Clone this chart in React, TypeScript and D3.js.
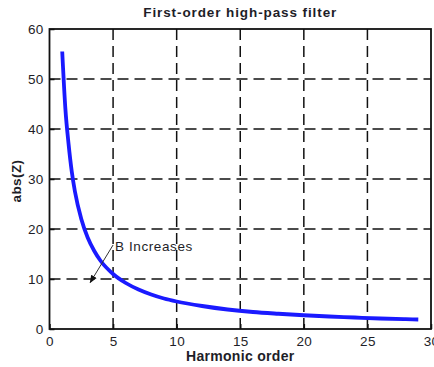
import React, { useEffect, useRef } from 'react';
import * as d3 from 'd3';

// data
const harmonicOrder = [1, 1.25, 1.5, 1.75, 2, 2.5, 3, 3.5, 4, 5, 6, 7, 8, 9, 10, 12, 14, 16, 18, 20, 22, 24, 26, 28, 29];
const absZ = [55.5, 44, 37, 31.5, 27.5, 22, 18.3, 15.7, 13.7, 11, 9.2, 7.9, 6.9, 6.1, 5.5, 4.6, 3.9, 3.4, 3.05, 2.75, 2.5, 2.3, 2.1, 1.96, 1.9];
const xTicks = [0, 5, 10, 15, 20, 25, 30];
const yTicks = [0, 10, 20, 30, 40, 50, 60];

export default function App() {
  const ref = useRef<SVGSVGElement | null>(null);

  useEffect(() => {
    draw();
    // eslint-disable-next-line react-hooks/exhaustive-deps
  }, []);

  function draw() {
    const svg = d3.select(ref.current);
    svg.selectAll('*').remove();
    const width = 434;
    const height = 367;
    const margin = { top: 29, right: 3, bottom: 38, left: 49.5 };
    const innerWidth = width - margin.left - margin.right;
    const innerHeight = height - margin.top - margin.bottom;
    const font = 'Liberation Sans, Arial, sans-serif';
    const ink = '#1e1e28';

    const xScale = d3.scaleLinear().domain([0, 30]).range([0, innerWidth]);
    const yScale = d3.scaleLinear().domain([0, 60]).range([innerHeight, 0]);

    svg.append('rect').attr('width', width).attr('height', height).attr('fill', '#fff');
    const g = svg.append('g').attr('transform', `translate(${margin.left},${margin.top})`);

    // dashed grid
    g.selectAll('.vgrid')
      .data(xTicks.slice(1, -1))
      .enter()
      .append('line')
      .attr('x1', (d) => xScale(d))
      .attr('x2', (d) => xScale(d))
      .attr('y1', 0)
      .attr('y2', innerHeight)
      .attr('stroke', '#111')
      .attr('stroke-width', 1.5)
      .attr('stroke-dasharray', '11,6');
    g.selectAll('.hgrid')
      .data(yTicks.slice(1, -1))
      .enter()
      .append('line')
      .attr('x1', 0)
      .attr('x2', innerWidth)
      .attr('y1', (d) => yScale(d))
      .attr('y2', (d) => yScale(d))
      .attr('stroke', '#111')
      .attr('stroke-width', 1.5)
      .attr('stroke-dasharray', '11,6');

    // axes
    const xAxis = d3.axisBottom(xScale).tickValues(xTicks).tickSize(-5).tickPadding(7);
    const yAxis = d3.axisLeft(yScale).tickValues(yTicks).tickSize(-5).tickPadding(6);
    const xg = g.append('g').attr('transform', `translate(0,${innerHeight})`).call(xAxis);
    const yg = g.append('g').call(yAxis);
    [xg, yg].forEach((a) => {
      a.select('.domain').remove();
      a.selectAll('line').attr('stroke', '#111').attr('stroke-width', 1.5);
      a.selectAll('text')
        .attr('font-family', font)
        .attr('font-size', 13.5)
        .attr('letter-spacing', 0.3)
        .attr('fill', ink);
    });
    yg.selectAll('text').attr('dy', '0.35em');

    // box
    g.append('rect')
      .attr('width', innerWidth)
      .attr('height', innerHeight)
      .attr('fill', 'none')
      .attr('stroke', '#111')
      .attr('stroke-width', 1.8);

    // curve
    const line = d3
      .line<number>()
      .x((d, i) => xScale(harmonicOrder[i]))
      .y((d) => yScale(d))
      .curve(d3.curveMonotoneX);
    g.append('path')
      .datum(absZ)
      .attr('d', line)
      .attr('fill', 'none')
      .attr('stroke', '#1a1aff')
      .attr('stroke-width', 3.8);

    // annotation
    svg.append('defs')
      .append('marker')
      .attr('id', 'arrow')
      .attr('viewBox', '0 0 10 10')
      .attr('refX', 9)
      .attr('refY', 5)
      .attr('markerWidth', 8)
      .attr('markerHeight', 8)
      .attr('markerUnits', 'userSpaceOnUse')
      .attr('orient', 'auto')
      .append('path')
      .attr('d', 'M0,1L10,5L0,9Z')
      .attr('fill', '#111');
    g.append('line')
      .attr('x1', xScale(5))
      .attr('y1', yScale(16.8))
      .attr('x2', xScale(3.2))
      .attr('y2', yScale(9.3))
      .attr('stroke', '#333')
      .attr('stroke-width', 1)
      .attr('marker-end', 'url(#arrow)');
    g.append('text')
      .text('B Increases')
      .attr('x', xScale(5.15))
      .attr('y', yScale(15.7))
      .attr('font-family', font)
      .attr('font-size', 13.5)
      .attr('letter-spacing', 0.6)
      .attr('fill', ink);

    // titles
    svg.append('text')
      .text('First-order high-pass filter')
      .attr('x', margin.left + innerWidth / 2)
      .attr('y', 17)
      .attr('text-anchor', 'middle')
      .attr('font-family', font)
      .attr('font-size', 13.5)
      .attr('font-weight', 'bold')
      .attr('letter-spacing', 0.9)
      .attr('fill', ink);
    svg.append('text')
      .text('Harmonic order')
      .attr('x', margin.left + innerWidth / 2)
      .attr('y', 361)
      .attr('text-anchor', 'middle')
      .attr('font-family', font)
      .attr('font-size', 14)
      .attr('font-weight', 'bold')
      .attr('letter-spacing', 0.3)
      .attr('fill', ink);
    svg.append('text')
      .text('abs(Z)')
      .attr('transform', `translate(21,${181}) rotate(-90)`)
      .attr('text-anchor', 'middle')
      .attr('font-family', font)
      .attr('font-size', 13.5)
      .attr('font-weight', 'bold')
      .attr('letter-spacing', 0.4)
      .attr('fill', ink);
  }

  return (
    <svg
      ref={ref}
      width={434}
      height={367}
      style={{ position: 'absolute', left: 0, top: 0 }}
    ></svg>
  );
}
